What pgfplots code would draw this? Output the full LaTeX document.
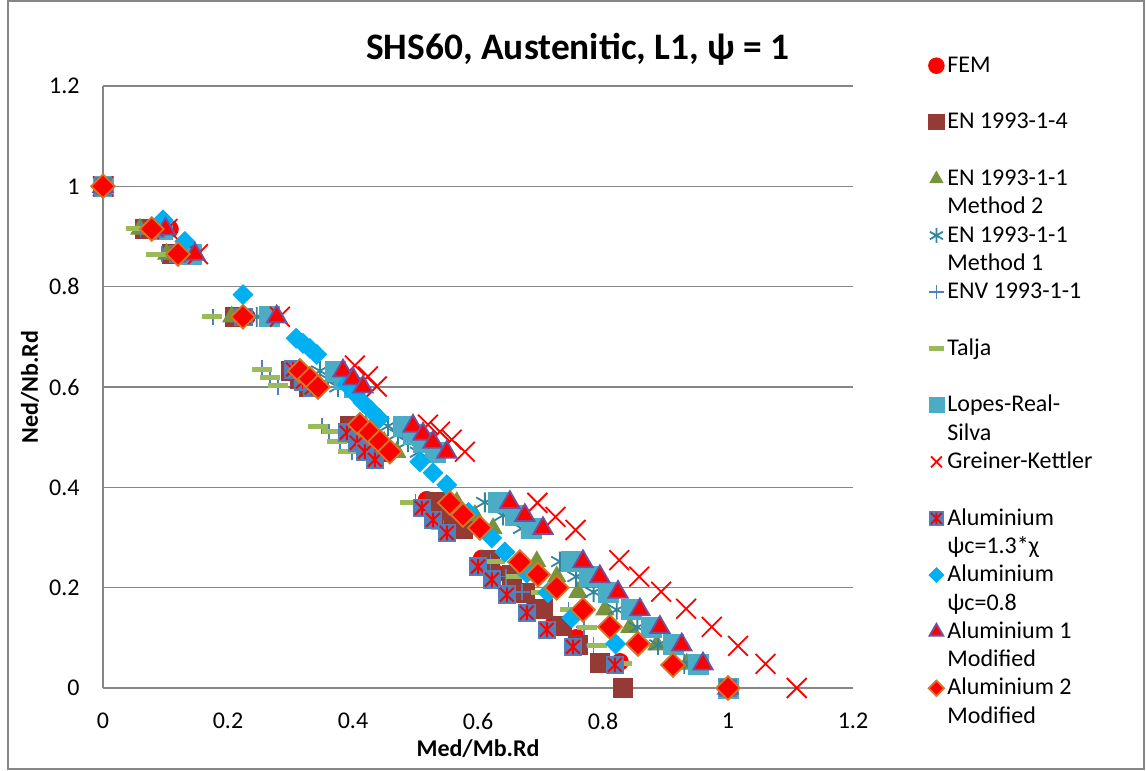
\documentclass[border=0pt]{standalone}
\usepackage{pgfplots}
\pgfplotsset{compat=1.18}
\usepackage{fontspec}
\setmainfont{Carlito}
\usetikzlibrary{plotmarks}
\definecolor{en14}{RGB}{150,58,54}
\definecolor{mtwo}{RGB}{119,147,60}
\definecolor{mone}{RGB}{49,133,156}
\definecolor{envc}{RGB}{79,129,189}
\definecolor{talja}{RGB}{155,187,89}
\definecolor{lopes}{RGB}{75,172,198}
\definecolor{alblue}{RGB}{79,129,189}
\definecolor{cyaneight}{RGB}{0,176,240}
\definecolor{purp}{RGB}{112,80,160}
\definecolor{orng}{RGB}{214,118,40}
\definecolor{gridc}{RGB}{134,134,134}
\pgfdeclareplotmark{sqast}{%
  \pgfpathrectangle{\pgfqpoint{-\pgfplotmarksize}{-\pgfplotmarksize}}{\pgfqpoint{2\pgfplotmarksize}{2\pgfplotmarksize}}%
  \pgfsetfillcolor{alblue}\pgfusepath{fill}%
  \pgfsetstrokecolor{red}\pgfsetlinewidth{1pt}%
  \pgfpathmoveto{\pgfqpoint{0pt}{-.8\pgfplotmarksize}}\pgfpathlineto{\pgfqpoint{0pt}{.8\pgfplotmarksize}}%
  \pgfpathmoveto{\pgfqpoint{-.75\pgfplotmarksize}{-.75\pgfplotmarksize}}\pgfpathlineto{\pgfqpoint{.75\pgfplotmarksize}{.75\pgfplotmarksize}}%
  \pgfpathmoveto{\pgfqpoint{-.75\pgfplotmarksize}{.75\pgfplotmarksize}}\pgfpathlineto{\pgfqpoint{.75\pgfplotmarksize}{-.75\pgfplotmarksize}}%
  \pgfusepath{stroke}}
\newcommand{\two}[2]{\begin{tabular}[t]{@{}l@{}}#1\\#2\end{tabular}}
\pgfplotsset{
  mk/.style={only marks,
    legend image code/.code={\path[draw=none,fill=none] (-4pt,7.5pt) -- (4pt,7.5pt);
      \draw[##1, every mark/.append style={scale=#1}] plot coordinates {(0pt,7.5pt)};}},
}
\begin{document}
\begin{tikzpicture}
\useasboundingbox (-51.5pt,-41.5pt) rectangle (521.5pt,344pt);
\draw[gridc, line width=0.6pt] (-47.5pt,-40.5pt) rectangle (520.5pt,343.5pt);
\begin{axis}[
  scale only axis, width=375pt, height=301pt,
  xmin=0, xmax=1.2, ymin=0, ymax=1.2,
  xtick={0,0.2,...,1.2}, ytick={0,0.2,...,1.2},
  axis lines*=left,
  axis line style={draw=gridc, line width=0.75pt, -},
  major tick length=0pt,
  ymajorgrids, major grid style={draw=gridc, line width=0.75pt},
  clip=false,
  /pgf/number format/assume math mode=true,
  ticklabel style={font=\fontsize{12}{14}\selectfont},
  yticklabel style={inner sep=0pt, xshift=-11.5pt},
  xticklabel style={inner sep=0pt, anchor=north, yshift=-12.5pt},
  xlabel={Med/Mb.Rd}, ylabel={Ned/Nb.Rd},
  every axis x label/.style={at={(axis description cs:0.5,-0.113)}, anchor=base, font=\fontsize{12}{14}\selectfont\bfseries},
  every axis y label/.style={at={(axis description cs:-0.0867,0.5)}, rotate=90, anchor=base, font=\fontsize{12}{14}\selectfont\bfseries},
  title={SHS60, Austenitic, L1, ψ = 1},
  every axis title shift=0pt,
  title style={at={(axis description cs:0.6333,1.0432)}, anchor=base, font=\fontsize{18.7}{22}\selectfont\bfseries},
  legend cell align=left,
  legend style={draw=none, fill=none, at={(axis description cs:1.1,1.0565)}, anchor=north west,
    inner sep=0pt, row sep=0pt, column sep=1.5pt,
    nodes={inner sep=0pt, text height=10pt, text depth=18.3pt, font=\fontsize{12}{14.15}\selectfont}},
]
% FEM
\addplot[mk=0.92, mark=*, mark size=4.25pt, color=red] coordinates {
(0,1) (0.107,0.915) (0.13,0.865) (0.23,0.74) (0.305,0.632) (0.32,0.616) (0.335,0.6)
(0.395,0.52) (0.41,0.505) (0.425,0.49) (0.44,0.47) (0.518,0.375) (0.535,0.35) (0.555,0.325)
(0.606,0.258) (0.63,0.228) (0.655,0.196) (0.69,0.16) (0.72,0.125) (0.758,0.1) (0.827,0.052) (1,0)};
\addlegendentry{\two{FEM}{\mbox{}}}
% EN 1993-1-4
\addplot[mk=0.8, mark=square*, mark size=4.75pt, color=en14] coordinates {
(0,1) (0.067,0.915) (0.11,0.865) (0.211,0.74) (0.3,0.632) (0.315,0.616) (0.33,0.6)
(0.395,0.522) (0.41,0.506) (0.425,0.49) (0.44,0.47) (0.531,0.37) (0.555,0.344) (0.576,0.318)
(0.619,0.255) (0.654,0.225) (0.675,0.19) (0.704,0.158) (0.734,0.124) (0.76,0.086) (0.795,0.05) (0.832,0)};
\addlegendentry{\two{EN 1993-1-4}{\mbox{}}}
% EN 1993-1-1 Method 2
\addplot[mk=0.72, mark=triangle*, mark size=5.2pt, color=mtwo] coordinates {
(0,1) (0.059,0.915) (0.102,0.865) (0.206,0.74) (0.305,0.632) (0.32,0.616) (0.335,0.6)
(0.42,0.522) (0.435,0.506) (0.45,0.49) (0.47,0.47) (0.566,0.37) (0.595,0.344) (0.624,0.318)
(0.694,0.252) (0.726,0.222) (0.76,0.191) (0.803,0.156) (0.843,0.121) (0.886,0.086) (0.934,0.048) (1,0)};
\addlegendentry{\two{EN 1993-1-1}{Method 2}}
% EN 1993-1-1 Method 1
\addplot[mk=0.75, mark=asterisk, mark size=5pt, line width=0.9pt, color=mone] coordinates {
(0,1) (0.088,0.915) (0.13,0.865) (0.246,0.74) (0.347,0.632) (0.36,0.616) (0.376,0.6)
(0.456,0.522) (0.472,0.506) (0.488,0.49) (0.505,0.47) (0.611,0.37) (0.64,0.344) (0.67,0.318)
(0.731,0.252) (0.757,0.222) (0.785,0.191) (0.822,0.156) (0.855,0.121) (0.888,0.086) (0.93,0.048) (1,0)};
\addlegendentry{\two{EN 1993-1-1}{Method 1}}
% ENV 1993-1-1
\addplot[mk=0.9, mark=+, mark size=4pt, line width=0.8pt, color=envc] coordinates {
(0,1) (0.06,0.915) (0.094,0.865) (0.176,0.74) (0.254,0.637) (0.267,0.615) (0.28,0.6)
(0.35,0.522) (0.362,0.511) (0.379,0.49) (0.398,0.47) (0.5,0.37) (0.52,0.344) (0.545,0.318)
(0.62,0.252) (0.645,0.222) (0.67,0.191) (0.745,0.156) (0.77,0.121) (0.785,0.086) (0.825,0.048) (1,0)};
\addlegendentry{\two{ENV 1993-1-1}{\mbox{}}}
% Talja
\addplot[mk=0.75, mark=-, mark size=5pt, line width=2.5pt, color=talja] coordinates {
(0,1) (0.053,0.915) (0.085,0.865) (0.174,0.74) (0.254,0.635) (0.267,0.619) (0.28,0.603)
(0.344,0.521) (0.366,0.511) (0.374,0.491) (0.392,0.471) (0.491,0.369) (0.515,0.345) (0.54,0.32)
(0.627,0.252) (0.66,0.222) (0.70,0.19) (0.747,0.156) (0.775,0.12) (0.79,0.085) (0.83,0.048) (1,0)};
\addlegendentry{\two{Talja}{\mbox{}}}
% Lopes-Real-Silva
\addplot[mk=0.75, mark=square*, mark size=5pt, color=lopes] coordinates {
(0,1) (0.095,0.915) (0.142,0.865) (0.267,0.74) (0.372,0.632) (0.387,0.616) (0.402,0.6)
(0.48,0.522) (0.496,0.506) (0.512,0.49) (0.532,0.47) (0.632,0.37) (0.66,0.344) (0.686,0.318)
(0.75,0.252) (0.779,0.222) (0.808,0.191) (0.846,0.156) (0.878,0.121) (0.912,0.086) (0.952,0.048) (1,0)};
\addlegendentry{\two{Lopes-Real-}{Silva}}
% Greiner-Kettler
\addplot[mk=0.55, mark=x, mark size=7pt, line width=0.9pt, color=red] coordinates {
(0,1) (0.103,0.915) (0.152,0.865) (0.283,0.74) (0.403,0.643) (0.424,0.621) (0.438,0.601)
(0.52,0.525) (0.539,0.511) (0.558,0.495) (0.579,0.471) (0.695,0.369) (0.724,0.341) (0.756,0.315)
(0.826,0.255) (0.858,0.222) (0.893,0.192) (0.933,0.158) (0.974,0.122) (1.016,0.084) (1.06,0.048) (1.11,0)};
\addlegendentry{\two{Greiner-Kettler}{\mbox{}}}
% Aluminium psi_c = 1.3 chi
\addplot[mk=0.8, mark=sqast, mark size=4.6pt] coordinates {
(0,1) (0.085,0.915) (0.12,0.865) (0.225,0.74) (0.304,0.635) (0.32,0.611) (0.334,0.599)
(0.39,0.509) (0.406,0.489) (0.419,0.471) (0.435,0.455) (0.51,0.359) (0.528,0.335) (0.55,0.309)
(0.6,0.242) (0.622,0.216) (0.646,0.186) (0.678,0.15) (0.71,0.116) (0.752,0.082) (0.819,0.046) (1,0)};
\addlegendentry{\two{Aluminium}{ψc=1.3*χ}}
% Aluminium psi_c = 0.8
\addplot[mk=0.75, mark=square*, mark size=3.5pt, mark options={rotate=45}, color=cyaneight] coordinates {
(0,1) (0.096,0.933) (0.131,0.89) (0.224,0.784)
(0.309,0.697) (0.32,0.687) (0.331,0.677) (0.342,0.665)
(0.39,0.605) (0.403,0.587) (0.416,0.569) (0.429,0.553) (0.442,0.537)
(0.507,0.451) (0.528,0.429) (0.55,0.405) (0.585,0.35)
(0.622,0.299) (0.643,0.271) (0.678,0.229) (0.712,0.19) (0.75,0.14) (0.82,0.088) (1,0)};
\addlegendentry{\two{Aluminium}{ψc=0.8}}
% Aluminium 1 Modified
\addplot[mk=0.7, mark=triangle*, mark size=5.6pt, line width=0.9pt, draw=purp, fill=red] coordinates {
(0,1) (0.1,0.915) (0.147,0.865) (0.278,0.74) (0.384,0.632) (0.4,0.616) (0.416,0.6)
(0.496,0.522) (0.512,0.506) (0.528,0.49) (0.55,0.47) (0.651,0.37) (0.675,0.344) (0.704,0.318)
(0.768,0.252) (0.795,0.222) (0.824,0.191) (0.859,0.156) (0.891,0.121) (0.926,0.086) (0.96,0.048) (1,0)};
\addlegendentry{\two{Aluminium 1}{Modified}}
% Aluminium 2 Modified
\addplot[mk=0.65, mark=square*, mark size=4.2pt, mark options={rotate=45}, line width=0.9pt, draw=orng, fill=red] coordinates {
(0,1) (0.078,0.915) (0.12,0.865) (0.224,0.74) (0.315,0.632) (0.331,0.616) (0.344,0.6)
(0.411,0.525) (0.427,0.509) (0.443,0.491) (0.459,0.471) (0.555,0.369) (0.576,0.345) (0.603,0.319)
(0.667,0.251) (0.696,0.226) (0.726,0.2) (0.768,0.156) (0.811,0.122) (0.856,0.088) (0.912,0.046) (1,0)};
\addlegendentry{\two{Aluminium 2}{Modified}}
\end{axis}
\end{tikzpicture}
\end{document}
